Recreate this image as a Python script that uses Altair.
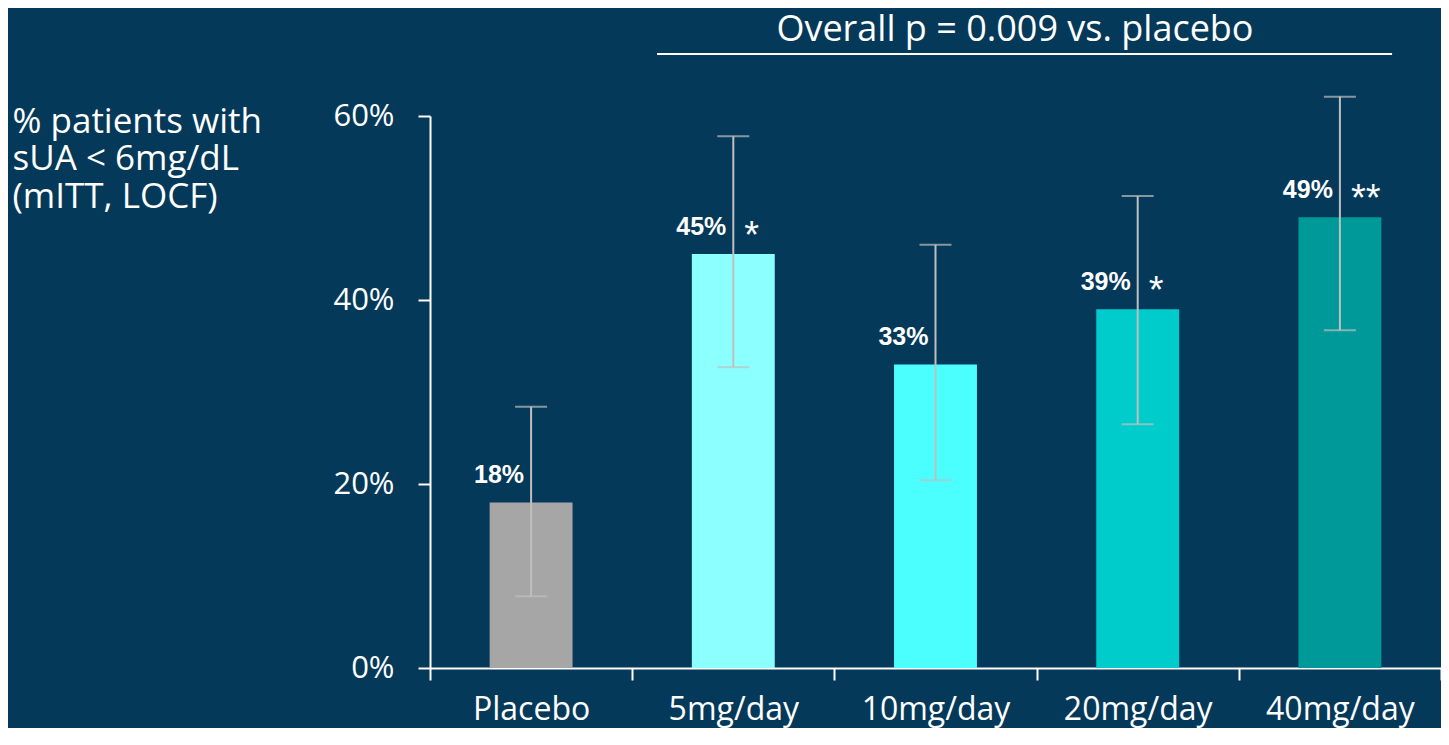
import altair as alt
import pandas as pd

categories = ["Placebo", "5mg/day", "10mg/day", "20mg/day", "40mg/day"]
values = [18, 45, 33, 39, 49]
ci_low = [7.8, 32.7, 20.4, 26.5, 36.7]
ci_high = [28.4, 57.8, 46.0, 51.3, 62.1]
stars = ["", "*", "", "*", "**"]
bar_colors = ["#A6A6A6", "#8CFFFF", "#4BFFFF", "#00CCCC", "#009999"]
y_ticks = [0, 20, 40, 60]
y_title = ["% patients with", "sUA < 6mg/dL", "(mITT, LOCF)"]
header = "Overall p = 0.009 vs. placebo"

BG = "#04395A"
WHITE = "#FFFFFF"
ERR = "#BFBFBF"

df = pd.DataFrame({
    "cat": categories,
    "value": values,
    "lo": ci_low,
    "hi": ci_high,
    "star": stars,
    "label": [f"{v}%" for v in values],
})

x = alt.X("cat:N", sort=categories,
          scale=alt.Scale(paddingInner=0, paddingOuter=0),
          axis=alt.Axis(title=None, labelAngle=0, labelFont="Open Sans",
                        labelFontSize=32, labelColor=WHITE, labelPadding=14,
                        tickBand="extent", tickSize=12, tickColor=WHITE,
                        tickWidth=2, domainColor=WHITE, domainWidth=2,
                        grid=False))
y = alt.Y("value:Q",
          scale=alt.Scale(domain=[0, 60], nice=False),
          axis=alt.Axis(values=y_ticks, labelExpr="datum.value + '%'",
                        labelFont="Open Sans", labelFontSize=31,
                        labelColor=WHITE, labelPadding=24, tickSize=12,
                        tickColor=WHITE, tickWidth=2, domainColor=WHITE,
                        domainWidth=2, grid=False,
                        title=y_title, titleAngle=0, titleAlign="left",
                        titleBaseline="top", titleX=-418, titleY=-12,
                        titleFont="Open Sans", titleFontSize=35,
                        titleFontWeight="normal", titleColor=WHITE,
                        titleLineHeight=37.5))

base = alt.Chart(df)

bars = base.mark_bar(width=alt.RelativeBandSize(0.41)).encode(
    x=x, y=y,
    color=alt.Color("cat:N", sort=categories,
                    scale=alt.Scale(domain=categories, range=bar_colors),
                    legend=None),
)

xc = alt.X("cat:N", sort=categories)
err = base.mark_rule(color=ERR, strokeWidth=2).encode(
    x=xc, y="lo:Q", y2="hi:Q")
cap_hi = base.mark_tick(color=ERR, thickness=2, size=32,
                        orient="horizontal").encode(x=xc, y="hi:Q")
cap_lo = base.mark_tick(color=ERR, thickness=2, size=32,
                        orient="horizontal").encode(x=xc, y="lo:Q")

labels = base.mark_text(align="right", baseline="alphabetic", dx=-7, dy=-19,
                        font="Liberation Sans", fontWeight="bold",
                        fontSize=25, color=WHITE).encode(
    x=xc, y="value:Q", text="label:N")

star_marks = base.transform_filter("datum.star != ''").mark_text(
    align="left", baseline="alphabetic", dx=11, dy=-6,
    font="Liberation Sans", fontSize=38, color=WHITE).encode(
    x=xc, y="value:Q", text="star:N")

header_df = pd.DataFrame({"t": [header]})
head_text = alt.Chart(header_df).mark_text(
    align="center", baseline="alphabetic", font="Open Sans", fontSize=36,
    color=WHITE).encode(
    x=alt.datum(categories[2], bandPosition=0.893),
    y=alt.datum(68.15), text="t:N")
head_rule = alt.Chart(header_df).mark_rule(color=WHITE, strokeWidth=2).encode(
    x=alt.datum(categories[1], bandPosition=0.123),
    x2=alt.datum(categories[4], bandPosition=0.758),
    y=alt.datum(66.74))

chart = alt.layer(bars, err, cap_hi, cap_lo, labels, star_marks,
                  head_rule, head_text).properties(
    width=1011, height=552,
    background=BG,
    autosize=alt.AutoSizeParams(type="none"),
    padding={"left": 422, "top": 108, "right": 0, "bottom": 60},
).configure_view(stroke=None)

chart.save("out.html", embed_options={"renderer": "svg", "actions": False})
